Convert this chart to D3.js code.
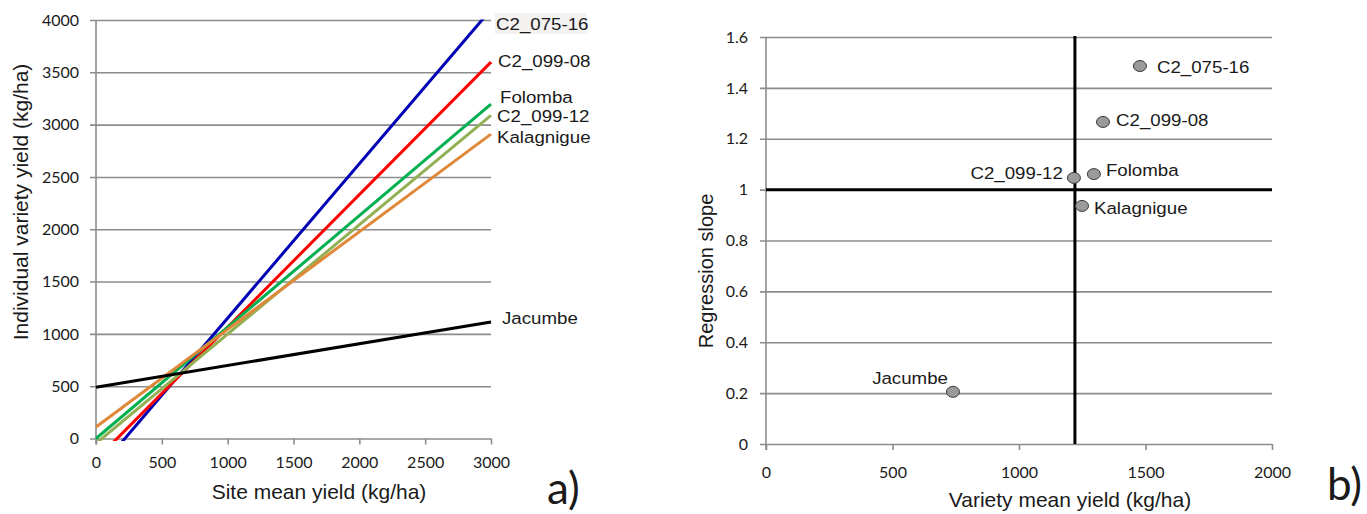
<!DOCTYPE html>
<html>
<head>
<meta charset="utf-8">
<script src="https://cdn.jsdelivr.net/npm/d3@7"></script>
<style>
  html, body { margin: 0; padding: 0; background: #fff; }
  svg { display: block; }
</style>
</head>
<body>
<svg id="chart" width="1367" height="514"></svg>
<script>
// ---------------- DATA ----------------
const varieties = ["C2_075-16", "C2_099-08", "Folomba", "C2_099-12", "Kalagnigue", "Jacumbe"];
const lineColors = ["#0000b4", "#ff0000", "#00b050", "#92b053", "#e0883a", "#000000"];
// Panel a) regression lines: individual yield = intercept + slope * site mean
const intercepts = [-324, -203, 0, -47, 110, 490];
const slopes = [1.475, 1.267, 1.065, 1.045, 0.933, 0.208];
// Panel b) variety mean yield vs regression slope
const varietyMeans = [1478, 1332, 1296, 1217, 1249, 739];
const regSlopes = [1.486, 1.266, 1.061, 1.046, 0.936, 0.205];
const overallMean = 1221;
const unitSlope = 1;

const xTicksA = [0, 500, 1000, 1500, 2000, 2500, 3000];
const yTicksA = [0, 500, 1000, 1500, 2000, 2500, 3000, 3500, 4000];
const xTicksB = [0, 500, 1000, 1500, 2000];
const yTicksB = [0, 0.2, 0.4, 0.6, 0.8, 1, 1.2, 1.4, 1.6];
const yTickLabelsB = ["0", "0.2", "0.4", "0.6", "0.8", "1", "1.2", "1.4", "1.6"];

// ---------------- STYLE ----------------
const GRID = "#8c8c8c";
const TXT = "#1a1a1a";
const SANS = "'Liberation Sans', Arial, sans-serif";
const TICKFONT = "Lato, 'Open Sans', sans-serif";

const svg = d3.select("#chart");

function stretchText(g, str, x, y, opts) {
  const t = g.append("text")
    .attr("transform", `translate(${x},${y}) scale(${opts.sx || 1},1)`)
    .attr("text-anchor", opts.anchor || "start")
    .style("font-family", opts.family || SANS)
    .style("font-size", opts.size + "px")
    .style("fill", opts.fill || TXT)
    .text(str);
  return t;
}

// ---------------- PANEL A ----------------
const xA = d3.scaleLinear().domain([0, 3000]).range([96, 491]);
const yA = d3.scaleLinear().domain([0, 4000]).range([438.5, 20]);
const gA = svg.append("g");

// horizontal gridlines + y tick labels
const yAxisA = d3.axisLeft(yA).tickValues(yTicksA)
  .tickSize(-(xA(3000) - 90)).tickPadding(11).tickFormat(d3.format("d"));
const gyA = gA.append("g").attr("transform", "translate(90,0)").call(yAxisA);
gyA.select(".domain").remove();
gyA.selectAll(".tick line").attr("stroke", GRID).attr("stroke-width", 1.6);
gyA.selectAll(".tick text").style("font-family", TICKFONT).style("font-size", "16px").style("fill", TXT);

// x axis ticks
const xAxisA = d3.axisBottom(xA).tickValues(xTicksA).tickSize(6).tickPadding(12).tickSizeOuter(0)
  .tickFormat(d3.format("d"));
const gxA = gA.append("g").attr("transform", `translate(0,${yA(0)})`).call(xAxisA);
gxA.select(".domain").remove();
gxA.selectAll(".tick line").attr("stroke", GRID).attr("stroke-width", 1.6);
gxA.selectAll(".tick text").style("font-family", TICKFONT).style("font-size", "16px").style("fill", TXT);

// y axis line
gA.append("line").attr("x1", xA(0)).attr("x2", xA(0)).attr("y1", yA(4000)).attr("y2", yA(0) + 6)
  .attr("stroke", GRID).attr("stroke-width", 1.6);

// clip for lines
svg.append("defs").append("clipPath").attr("id", "clipA").append("rect")
  .attr("x", xA(0) - 1).attr("y", yA(4000) - 0.5)
  .attr("width", xA(3000) - xA(0) + 2).attr("height", yA(0) - yA(4000) + 3);

const lineGen = d3.line().x(d => xA(d[0])).y(d => yA(d[1]));
const gLines = gA.append("g").attr("clip-path", "url(#clipA)");
varieties.forEach((v, i) => {
  const pts = [0, 3000].map(x => [x, intercepts[i] + slopes[i] * x]);
  gLines.append("path").attr("d", lineGen(pts))
    .attr("fill", "none").attr("stroke", lineColors[i]).attr("stroke-width", 3);
});

// line labels
const labelDxA = [5, 7, 9, 6, 6, 11];
const labelDyA = [4, -1, -7, 1, 3, -4];
const LBL = 17, LSX = 1.1;
varieties.forEach((v, i) => {
  const endVal = Math.min(intercepts[i] + slopes[i] * 3000, 4000);
  const cx = xA(3000) + labelDxA[i];
  const cy = yA(endVal) + labelDyA[i];
  if (i === 0) {
    gA.append("rect").attr("x", cx - 1).attr("y", cy - 11).attr("width", 92).attr("height", 21)
      .attr("fill", "#f3f2f1");
  }
  stretchText(gA, v, cx, cy + 6, { size: LBL, sx: LSX });
});

// axis titles
stretchText(gA, "Site mean yield (kg/ha)", 319, 499, { size: 20, sx: 1.05, anchor: "middle" });
gA.append("text").attr("transform", "translate(28,202) rotate(-90)")
  .attr("text-anchor", "middle").style("font-family", SANS).style("font-size", "21px")
  .style("fill", TXT).text("Individual variety yield (kg/ha)");
stretchText(gA, "a)", 547, 504, { size: 44, family: TICKFONT, anchor: "start" });

// ---------------- PANEL B ----------------
const xB = d3.scaleLinear().domain([0, 2000]).range([766, 1272]);
const yB = d3.scaleLinear().domain([0, 1.6]).range([444, 37]);
const gB = svg.append("g");

const yAxisB = d3.axisLeft(yB).tickValues(yTicksB)
  .tickSize(-(xB(2000) - 760)).tickPadding(12).tickFormat((d, i) => yTickLabelsB[i]);
const gyB = gB.append("g").attr("transform", "translate(760,0)").call(yAxisB);
gyB.select(".domain").remove();
gyB.selectAll(".tick line").attr("stroke", GRID).attr("stroke-width", 1.6);
gyB.selectAll(".tick text").style("font-family", TICKFONT).style("font-size", "16px").style("fill", TXT);

const xAxisB = d3.axisBottom(xB).tickValues(xTicksB).tickSize(6).tickPadding(17).tickSizeOuter(0)
  .tickFormat(d3.format("d"));
const gxB = gB.append("g").attr("transform", `translate(0,${yB(0)})`).call(xAxisB);
gxB.select(".domain").remove();
gxB.selectAll(".tick line").attr("stroke", GRID).attr("stroke-width", 1.6);
gxB.selectAll(".tick text").style("font-family", TICKFONT).style("font-size", "16px").style("fill", TXT);

gB.append("line").attr("x1", xB(0)).attr("x2", xB(0)).attr("y1", yB(1.6)).attr("y2", yB(0) + 6)
  .attr("stroke", GRID).attr("stroke-width", 1.6);

// reference lines
gB.append("line").attr("x1", xB(0)).attr("x2", xB(2000)).attr("y1", yB(unitSlope)).attr("y2", yB(unitSlope))
  .attr("stroke", "#000").attr("stroke-width", 3);
gB.append("line").attr("x1", xB(overallMean)).attr("x2", xB(overallMean)).attr("y1", yB(1.6) - 1).attr("y2", yB(0))
  .attr("stroke", "#000").attr("stroke-width", 3);

// points
gB.selectAll("ellipse.pt").data(varieties).enter().append("ellipse")
  .attr("class", "pt")
  .attr("cx", (d, i) => xB(varietyMeans[i]))
  .attr("cy", (d, i) => yB(regSlopes[i]))
  .attr("rx", 6.5).attr("ry", 5.5)
  .attr("fill", "#9a9a9a").attr("stroke", "#3a3a3a").attr("stroke-width", 1);

// point labels
const labelDxB = [17, 13, 12, -11, 12, -5];
const labelDyB = [1, -2, -4, -5, 2, -14];
const labelAnchorB = ["start", "start", "start", "end", "start", "end"];
varieties.forEach((v, i) => {
  const cx = xB(varietyMeans[i]) + labelDxB[i];
  const cy = yB(regSlopes[i]) + labelDyB[i];
  stretchText(gB, v, cx, cy + 6, { size: LBL, sx: LSX, anchor: labelAnchorB[i] });
});

stretchText(gB, "Variety mean yield (kg/ha)", 1070, 507, { size: 20, sx: 1.05, anchor: "middle" });
gB.append("text").attr("transform", "translate(713,271) rotate(-90)")
  .attr("text-anchor", "middle").style("font-family", SANS).style("font-size", "20px")
  .style("fill", TXT).text("Regression slope");
stretchText(gB, "b)", 1327, 500, { size: 44, family: TICKFONT, anchor: "start" });
</script>
</body>
</html>
